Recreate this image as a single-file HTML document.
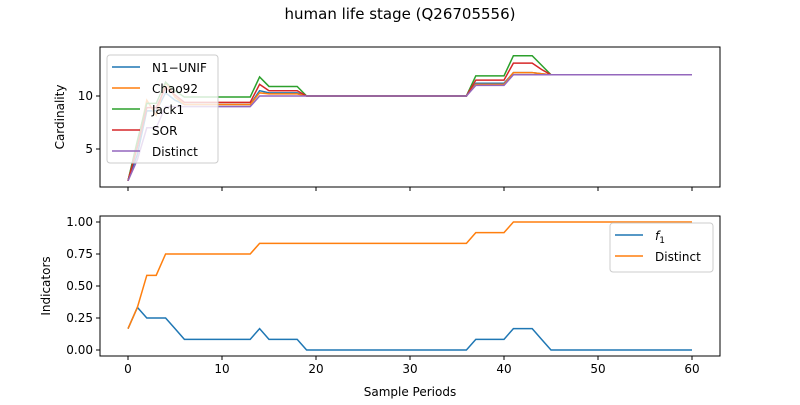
<!DOCTYPE html>
<html><head><meta charset="utf-8"><style>
body{margin:0;background:#fff;font-family:"Liberation Sans","DejaVu Sans",sans-serif}
svg text{font-family:"DejaVu Sans","Liberation Sans",sans-serif;font-size:12px;fill:#000}
</style></head><body>
<svg id="c" width="800" height="400"></svg>
<script>
const xs = Array.from({length:61},(_,i)=>i);
function seg(pairs){const a=[];for(const [v,n] of pairs)for(let i=0;i<n;i++)a.push(v);return a;}
const distinct = [2,4,7,7,9].concat(seg([[9,9],[10,23],[11,4],[12,20]]));
const n1unif = [2,4.5,8.6,8.6,10.3,9.6].concat(seg([[9.2,8],[10.5,1],[10.3,4],[10,18],[11.2,4],[12.2,3],[12.1,1],[12,16]]));
const chao92 = [2,5.5,9.6,8.2,11.3,9.9].concat(seg([[9.2,8],[10.3,1],[10.2,4],[10,18],[11.1,4],[12.2,3],[12.1,1],[12,16]]));
const jack1 = [2,5.8,9.3,9.3,11.3,10.5].concat(seg([[9.9,8],[11.8,1],[10.9,4],[10,18],[11.9,4],[13.8,3],[12.9,1],[12,16]]));
const sor = [2,5.2,8.9,8.9,10.8,10.1].concat(seg([[9.4,8],[11.1,1],[10.5,4],[10,18],[11.5,4],[13.1,3],[12.5,1],[12,16]]));
const f1 = [0.1667,0.3333,0.25,0.25,0.25,0.1667].concat(seg([[0.0833,8],[0.1667,1],[0.0833,4],[0,18],[0.0833,4],[0.1667,3],[0.0833,1],[0,16]]));
const distinctRatio = [0.1667,0.3333,0.5833,0.5833,0.75].concat(seg([[0.75,9],[0.8333,23],[0.9167,4],[1,20]]));
const xTicks=[0,10,20,30,40,50,60];
const topTicks=[5,10];
const botTicks=[0,0.25,0.5,0.75,1.0];
const botTickLabels=["0.00","0.25","0.50","0.75","1.00"];

const svg=document.getElementById('c');const NS='http://www.w3.org/2000/svg';
function el(t,a,p){const e=document.createElementNS(NS,t);for(const k in a)e.setAttribute(k,a[k]);(p||svg).appendChild(e);return e;}
const X=v=>128+v*9.4;
const Yt=v=>96-(v-10)*10.6;
const Yb=v=>350-v*128;
let t=el('text',{x:400,y:19,'text-anchor':'middle','font-size':'15'});t.textContent='human life stage (Q26705556)';t.style.fontSize='15px';


function axes(y0,y1,Y,ticks,labels,ylab,name,showX){
  const g=el('g',{});
  
  
  for(const v of xTicks){el('line',{x1:X(v),x2:X(v),y1:y1,y2:y1+4,stroke:'#000'},g);
    if(showX){const tt=el('text',{x:X(v),y:y1+17,'text-anchor':'middle'},g);tt.textContent=v;}}
  ticks.forEach((v,i)=>{el('line',{x1:96,x2:100,y1:Y(v),y2:Y(v),stroke:'#000'},g);
    const tt=el('text',{x:93,y:Y(v)+4,'text-anchor':'end'},g);tt.textContent=labels[i];});
  const yl=el('text',{x:0,y:0,'text-anchor':'middle',transform:`translate(${ylab[1]},${(y0+y1)/2}) rotate(-90)`},g);yl.textContent=ylab[0];
  return g;
}
const clipT=el('clipPath',{id:'ct'});el('rect',{x:100,y:47,width:620,height:140},clipT);
const clipB=el('clipPath',{id:'cb'});el('rect',{x:100,y:216,width:620,height:140},clipB);
function line(arr,Y,color,name,clip){const p=el('polyline',{points:arr.map((v,i)=>X(xs[i])+','+Y(v)).join(' '),fill:'none',stroke:color,'stroke-width':1.5,'clip-path':`url(#${clip})`});
  
  }
axes(47,187,Yt,topTicks,topTicks.map(String),['Cardinality',64],'top-axes',false);
axes(216,356,Yb,botTicks,botTickLabels,['Indicators',50],'bottom-axes',true);
line(n1unif,Yt,'#1f77b4','line-n1-unif','ct');
line(chao92,Yt,'#ff7f0e','line-chao92','ct');
line(jack1,Yt,'#2ca02c','line-jack1','ct');
line(sor,Yt,'#d62728','line-sor','ct');
line(distinct,Yt,'#9467bd','line-distinct','ct');
line(f1,Yb,'#1f77b4','line-f1','cb');
line(distinctRatio,Yb,'#ff7f0e','line-distinct-ratio','cb');
el('rect',{x:100,y:47,width:620,height:140,fill:'none',stroke:'#000'});
el('rect',{x:100,y:216,width:620,height:140,fill:'none',stroke:'#000'});
let xl=el('text',{x:410,y:396,'text-anchor':'middle'});xl.textContent='Sample Periods';


function legend(x,y,w,h,items,name){const g=el('g',{});
  
  
  el('rect',{x:x,y:y,width:w,height:h,rx:3,fill:'#fff','fill-opacity':0.8,stroke:'#ccc'},g);
  items.forEach((it,i)=>{const yy=y+12+i*21;
    el('line',{x1:x+5,x2:x+33,y1:yy,y2:yy,stroke:it[1],'stroke-width':1.5},g);
    const tt=el('text',{x:x+45,y:yy+5},g);
    if(it[0]==='f1'){tt.innerHTML='<tspan font-style="italic">f</tspan><tspan font-size="9" dy="3">1</tspan>';}else tt.textContent=it[0];});
}
legend(107,55,111,108,[['N1\u2212UNIF','#1f77b4'],['Chao92','#ff7f0e'],['Jack1','#2ca02c'],['SOR','#d62728'],['Distinct','#9467bd']],'top-legend');
legend(610,223,103,49,[['f1','#1f77b4'],['Distinct','#ff7f0e']],'bottom-legend');
</script>
</body></html>
